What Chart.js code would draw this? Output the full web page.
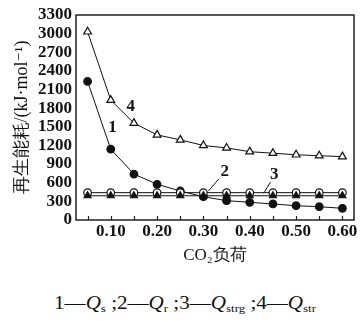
<!DOCTYPE html>
<html>
<head>
<meta charset="utf-8">
<script src="https://cdn.jsdelivr.net/npm/chart.js@4/dist/chart.umd.min.js"></script>
<style>
  html, body { margin:0; padding:0; background:#fff; }
  #wrap { position:relative; width:362px; height:270px; }
  #caption {
    position:absolute; left:0; top:293px; width:362px; padding-left:8px; box-sizing:border-box;
    text-align:center; font-family:'Liberation Serif','Times New Roman','DejaVu Serif',serif; font-size:18px; color:#111;
    transform:scaleX(1.17); transform-origin:185px 50%;
  }
  #caption sub { font-size:11px; vertical-align:-3px; }
</style>
</head>
<body>
<div id="wrap"><canvas id="chart" width="362" height="270"></canvas></div>
<div id="caption">1—<i>Q</i><sub>s</sub> ;2—<i>Q</i><sub>r</sub> ;3—<i>Q</i><sub>strg</sub> ;4—<i>Q</i><sub>str</sub></div>
<script>
/* ── DATOS ── */
const CARGA   = [0.05, 0.10, 0.15, 0.20, 0.25, 0.30, 0.35, 0.40, 0.45, 0.50, 0.55, 0.60];
const Q_S     = [2230, 1140, 740, 575, 467, 375, 311, 285, 258, 230, 214, 188];
const Q_R     = [440, 440, 440, 440, 440, 440, 440, 440, 440, 440, 440, 440];
const Q_STRG  = [390, 390, 390, 390, 390, 390, 390, 390, 390, 390, 390, 390];
const Q_STR   = [3030, 1930, 1560, 1370, 1290, 1200, 1160, 1100, 1075, 1050, 1035, 1020];
const Y_TICKS = [0, 300, 600, 900, 1200, 1500, 1800, 2100, 2400, 2700, 3000, 3300];
const X_TICKS = [0.05, 0.10, 0.15, 0.20, 0.25, 0.30, 0.35, 0.40, 0.45, 0.50, 0.55, 0.60];
const X_LABELS = ['', '0.10', '', '0.20', '', '0.30', '', '0.40', '', '0.50', '', '0.60'];

const SERIF = "'Liberation Serif','Times New Roman','DejaVu Serif',serif";
const INK   = '#111';

const pts = arr => arr.map((v, i) => ({ x: CARGA[i], y: v }));

// etiquetas 1-4 con líneas guía (en coordenadas de datos)
const ETIQUETAS = [
  { t:'1', x:0.104, y:1480 },
  { t:'4', x:0.143, y:1820 },
  { t:'2', x:0.346, y:780, guia:[[0.333, 660], [0.311, 467]] },
  { t:'3', x:0.453, y:725, guia:[[0.445, 612], [0.430, 430]] },
];

/* ── PLUGINS ── */
const marco = {
  id:'marco',
  beforeDatasetsDraw(chart) {
    const { ctx, chartArea:a, scales:{ x } } = chart;
    ctx.save();
    ctx.strokeStyle = '#222';
    ctx.lineWidth = 1.5;
    ctx.strokeRect(a.left, a.top, a.right - a.left, a.bottom - a.top);
    ctx.lineWidth = 1.2;
    X_TICKS.forEach(v => {
      const px = Math.round(x.getPixelForValue(v)) + 0.5;
      ctx.beginPath(); ctx.moveTo(px, a.bottom); ctx.lineTo(px, a.bottom - 4); ctx.stroke();
    });
    ctx.restore();
  }
};

const etiquetas = {
  id:'etiquetas',
  afterDatasetsDraw(chart) {
    const { ctx, scales:{ x, y } } = chart;
    ctx.save();
    ctx.fillStyle = INK; ctx.strokeStyle = INK; ctx.lineWidth = 1;
    ctx.font = `bold 17px ${SERIF}`;
    ctx.textAlign = 'center'; ctx.textBaseline = 'middle';
    ETIQUETAS.forEach(e => {
      ctx.fillText(e.t, x.getPixelForValue(e.x), y.getPixelForValue(e.y));
      if (e.guia) {
        ctx.beginPath();
        ctx.moveTo(x.getPixelForValue(e.guia[0][0]), y.getPixelForValue(e.guia[0][1]));
        ctx.lineTo(x.getPixelForValue(e.guia[1][0]), y.getPixelForValue(e.guia[1][1]));
        ctx.stroke();
      }
    });
    ctx.restore();
  }
};

/* ── GRÁFICO ── */
const serie = (data, estilo, relleno, r) => ({
  data: pts(data), borderColor: INK, borderWidth: 1, tension: 0,
  pointStyle: estilo, pointRadius: r, pointBackgroundColor: relleno,
  pointBorderColor: INK, pointBorderWidth: 1.2
});

new Chart(document.getElementById('chart').getContext('2d'), {
  type: 'line',
  data: {
    datasets: [
      serie(Q_STRG, 'triangle', INK, 4),
      serie(Q_R, 'circle', '#fff', 3.8),
      serie(Q_S, 'circle', INK, 3.8),
      serie(Q_STR, 'triangle', '#fff', 4.5),
    ]
  },
  options: {
    responsive: false, animation: false, devicePixelRatio: 1,
    layout: { padding: { top: 15, right: 8, left: 0, bottom: 4 } },
    plugins: { legend: { display: false }, tooltip: { enabled: false } },
    scales: {
      x: {
        type: 'linear', min: 0.025, max: 0.625,
        afterBuildTicks: s => { s.ticks = X_TICKS.map(v => ({ value: v })); },
        afterFit: s => { s.height = 46; },
        grid: { display: false, drawTicks: false }, border: { display: false },
        ticks: { autoSkip: false, maxRotation: 0, padding: 1, color: INK,
                 font: { family: SERIF, size: 17, weight: 'bold' },
                 callback: (v, i) => X_LABELS[i] },
        title: { display: true, text: 'CO₂负荷', color: INK, padding: { top: 0, bottom: 0 },
                 font: { family: SERIF, size: 17 } }
      },
      y: {
        min: 0, max: 3300,
        afterBuildTicks: s => { s.ticks = Y_TICKS.map(v => ({ value: v })); },
        afterFit: s => { s.width = 76; },
        grid: { display: false, drawTicks: false }, border: { display: false },
        ticks: { autoSkip: false, padding: 4, color: INK,
                 font: { family: SERIF, size: 17, weight: 'bold' },
                 callback: v => String(v) },
        title: { display: true, text: '再生能耗/(kJ·mol⁻¹)', color: INK, padding: { top: 11, bottom: 0 },
                 font: { family: SERIF, size: 18 } }
      }
    }
  },
  plugins: [marco, etiquetas]
});
</script>
</body>
</html>
